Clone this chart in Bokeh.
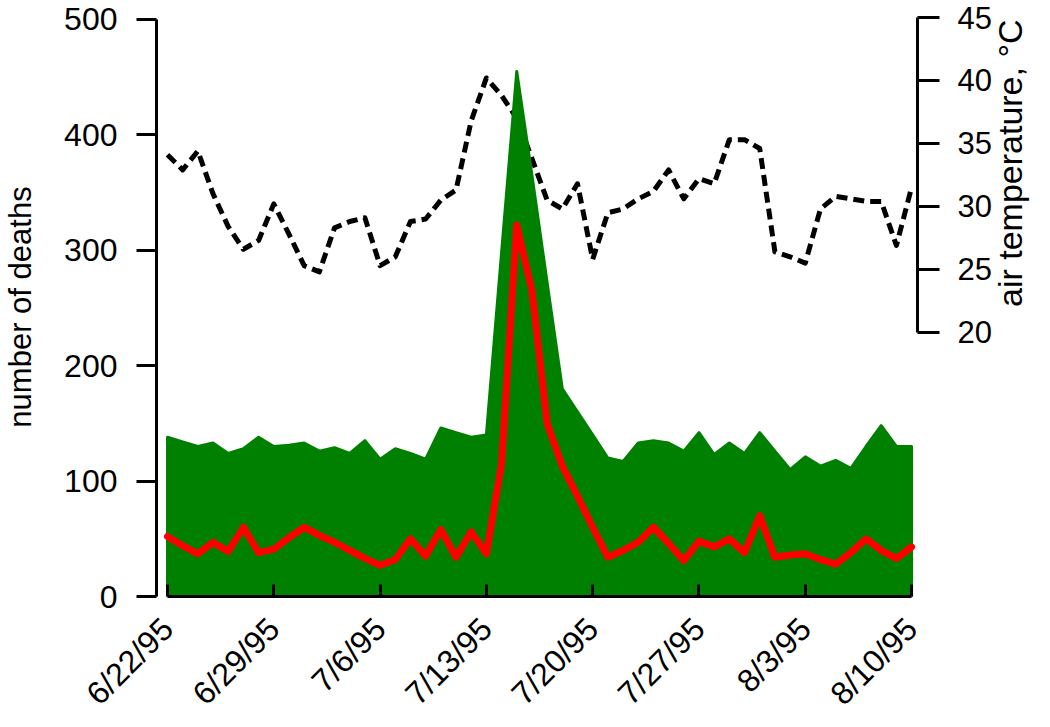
import math
from bokeh.plotting import figure
from bokeh.models import Range1d, LinearAxis, FixedTicker
from bokeh.embed import file_html
from bokeh.resources import INLINE

# ---- data ----
day_index = list(range(50))  # day 0 = 6/22/95
tick_days = [0, 7, 14, 21, 28, 35, 42, 49]
tick_labels = ["6/22/95", "6/29/95", "7/6/95", "7/13/95",
               "7/20/95", "7/27/95", "8/3/95", "8/10/95"]

total_deaths = [138, 134, 130, 133, 124, 128, 138, 130, 131, 133,
                126, 129, 124, 135, 119, 128, 124, 119, 146, 142,
                138, 140, 298, 455, 365, 272, 180, 160, 140, 120,
                117, 133, 135, 133, 126, 142, 123, 133, 124, 142,
                126, 110, 121, 113, 118, 111, 130, 148, 130, 130]

heat_deaths = [52, 44, 37, 47, 39, 60, 38, 41, 51, 60,
               53, 47, 40, 33, 27, 32, 50, 35, 58, 34,
               56, 37, 115, 322, 265, 150, 113, 87, 60, 34,
               40, 47, 60, 46, 31, 48, 43, 50, 38, 70,
               34, 36, 37, 32, 28, 38, 50, 40, 33, 43]

air_temp = [34.1, 32.9, 34.4, 31.0, 28.4, 26.6, 27.3, 30.2, 27.8, 25.3,
            24.8, 28.3, 28.8, 29.1, 25.3, 26.0, 28.8, 29.0, 30.5, 31.3,
            36.8, 40.2, 38.8, 37.0, 33.8, 30.5, 29.8, 31.8, 25.8, 29.5,
            29.8, 30.6, 31.2, 32.9, 30.6, 32.2, 31.8, 35.3, 35.3, 34.6,
            26.4, 26.0, 25.5, 29.8, 30.8, 30.6, 30.4, 30.4, 26.9, 31.5]

death_ticks = [0, 100, 200, 300, 400, 500]
temp_ticks = [20, 25, 30, 35, 40, 45]

FONT = "Liberation Sans"
GREEN = "#008000"
RED = "#FF0000"

p = figure(width=1050, height=727, output_backend="svg", toolbar_location=None,
           x_range=Range1d(-0.7235, 49.39), y_range=Range1d(0, 501.73),
           min_border_left=156, min_border_right=132,
           min_border_top=17, min_border_bottom=129)
p.extra_y_ranges = {"temp": Range1d(-0.97, 45)}
p.outline_line_color = None
p.xgrid.visible = False
p.ygrid.visible = False
p.background_fill_color = "white"
p.border_fill_color = "white"

# temperature (behind the area)
p.line(day_index, air_temp, y_range_name="temp", line_color="black",
       line_width=5, line_dash="11 6", line_join="round")

# total deaths area
area_x = [day_index[0]] + day_index + [day_index[-1]]
area_y = [0] + total_deaths + [0]
p.patch(area_x, area_y, fill_color=GREEN, line_color=GREEN,
        line_width=3, line_join="round")

# heat-related deaths
p.line(day_index, heat_deaths, line_color=RED, line_width=7,
       line_join="round", line_cap="round")

# ---- axes ----
def style(ax, tick_fs, label_fs):
    ax.axis_line_width = 3
    ax.axis_line_color = "black"
    ax.major_tick_line_width = 3
    ax.major_tick_line_color = "black"
    ax.minor_tick_line_color = None
    ax.major_label_text_font = FONT
    ax.major_label_text_font_size = tick_fs
    ax.major_label_text_color = "black"
    ax.axis_label_text_font = FONT
    ax.axis_label_text_font_size = label_fs
    ax.axis_label_text_font_style = "normal"
    ax.axis_label_text_color = "black"

yax = p.yaxis[0]
style(yax, "32px", "31px")
yax.ticker = FixedTicker(ticks=death_ticks)
yax.bounds = (0, 500)
yax.major_tick_out = 20
yax.major_tick_in = 0
yax.major_label_standoff = 19
yax.axis_label = "number of deaths"
yax.axis_label_standoff = 23

xax = p.xaxis[0]
style(xax, "32px", "31px")
xax.ticker = FixedTicker(ticks=tick_days)
xax.major_label_overrides = {d: lab for d, lab in zip(tick_days, tick_labels)}
xax.bounds = (tick_days[0], tick_days[-1])
xax.major_tick_in = 12
xax.major_tick_out = 0
xax.major_label_standoff = 27
xax.major_label_orientation = math.pi / 4

tax = LinearAxis(y_range_name="temp")
style(tax, "31px", "34px")
tax.ticker = FixedTicker(ticks=temp_ticks)
tax.bounds = (temp_ticks[0], temp_ticks[-1])
tax.major_tick_out = 22
tax.major_tick_in = 0
tax.major_label_standoff = 18
tax.axis_label = "air temperature, °C"
tax.axis_label_standoff = 15
try:
    tax.axis_label_orientation = math.pi / 2
except Exception:
    pass
p.add_layout(tax, "right")

open("out.html", "w").write(file_html(p, INLINE))
